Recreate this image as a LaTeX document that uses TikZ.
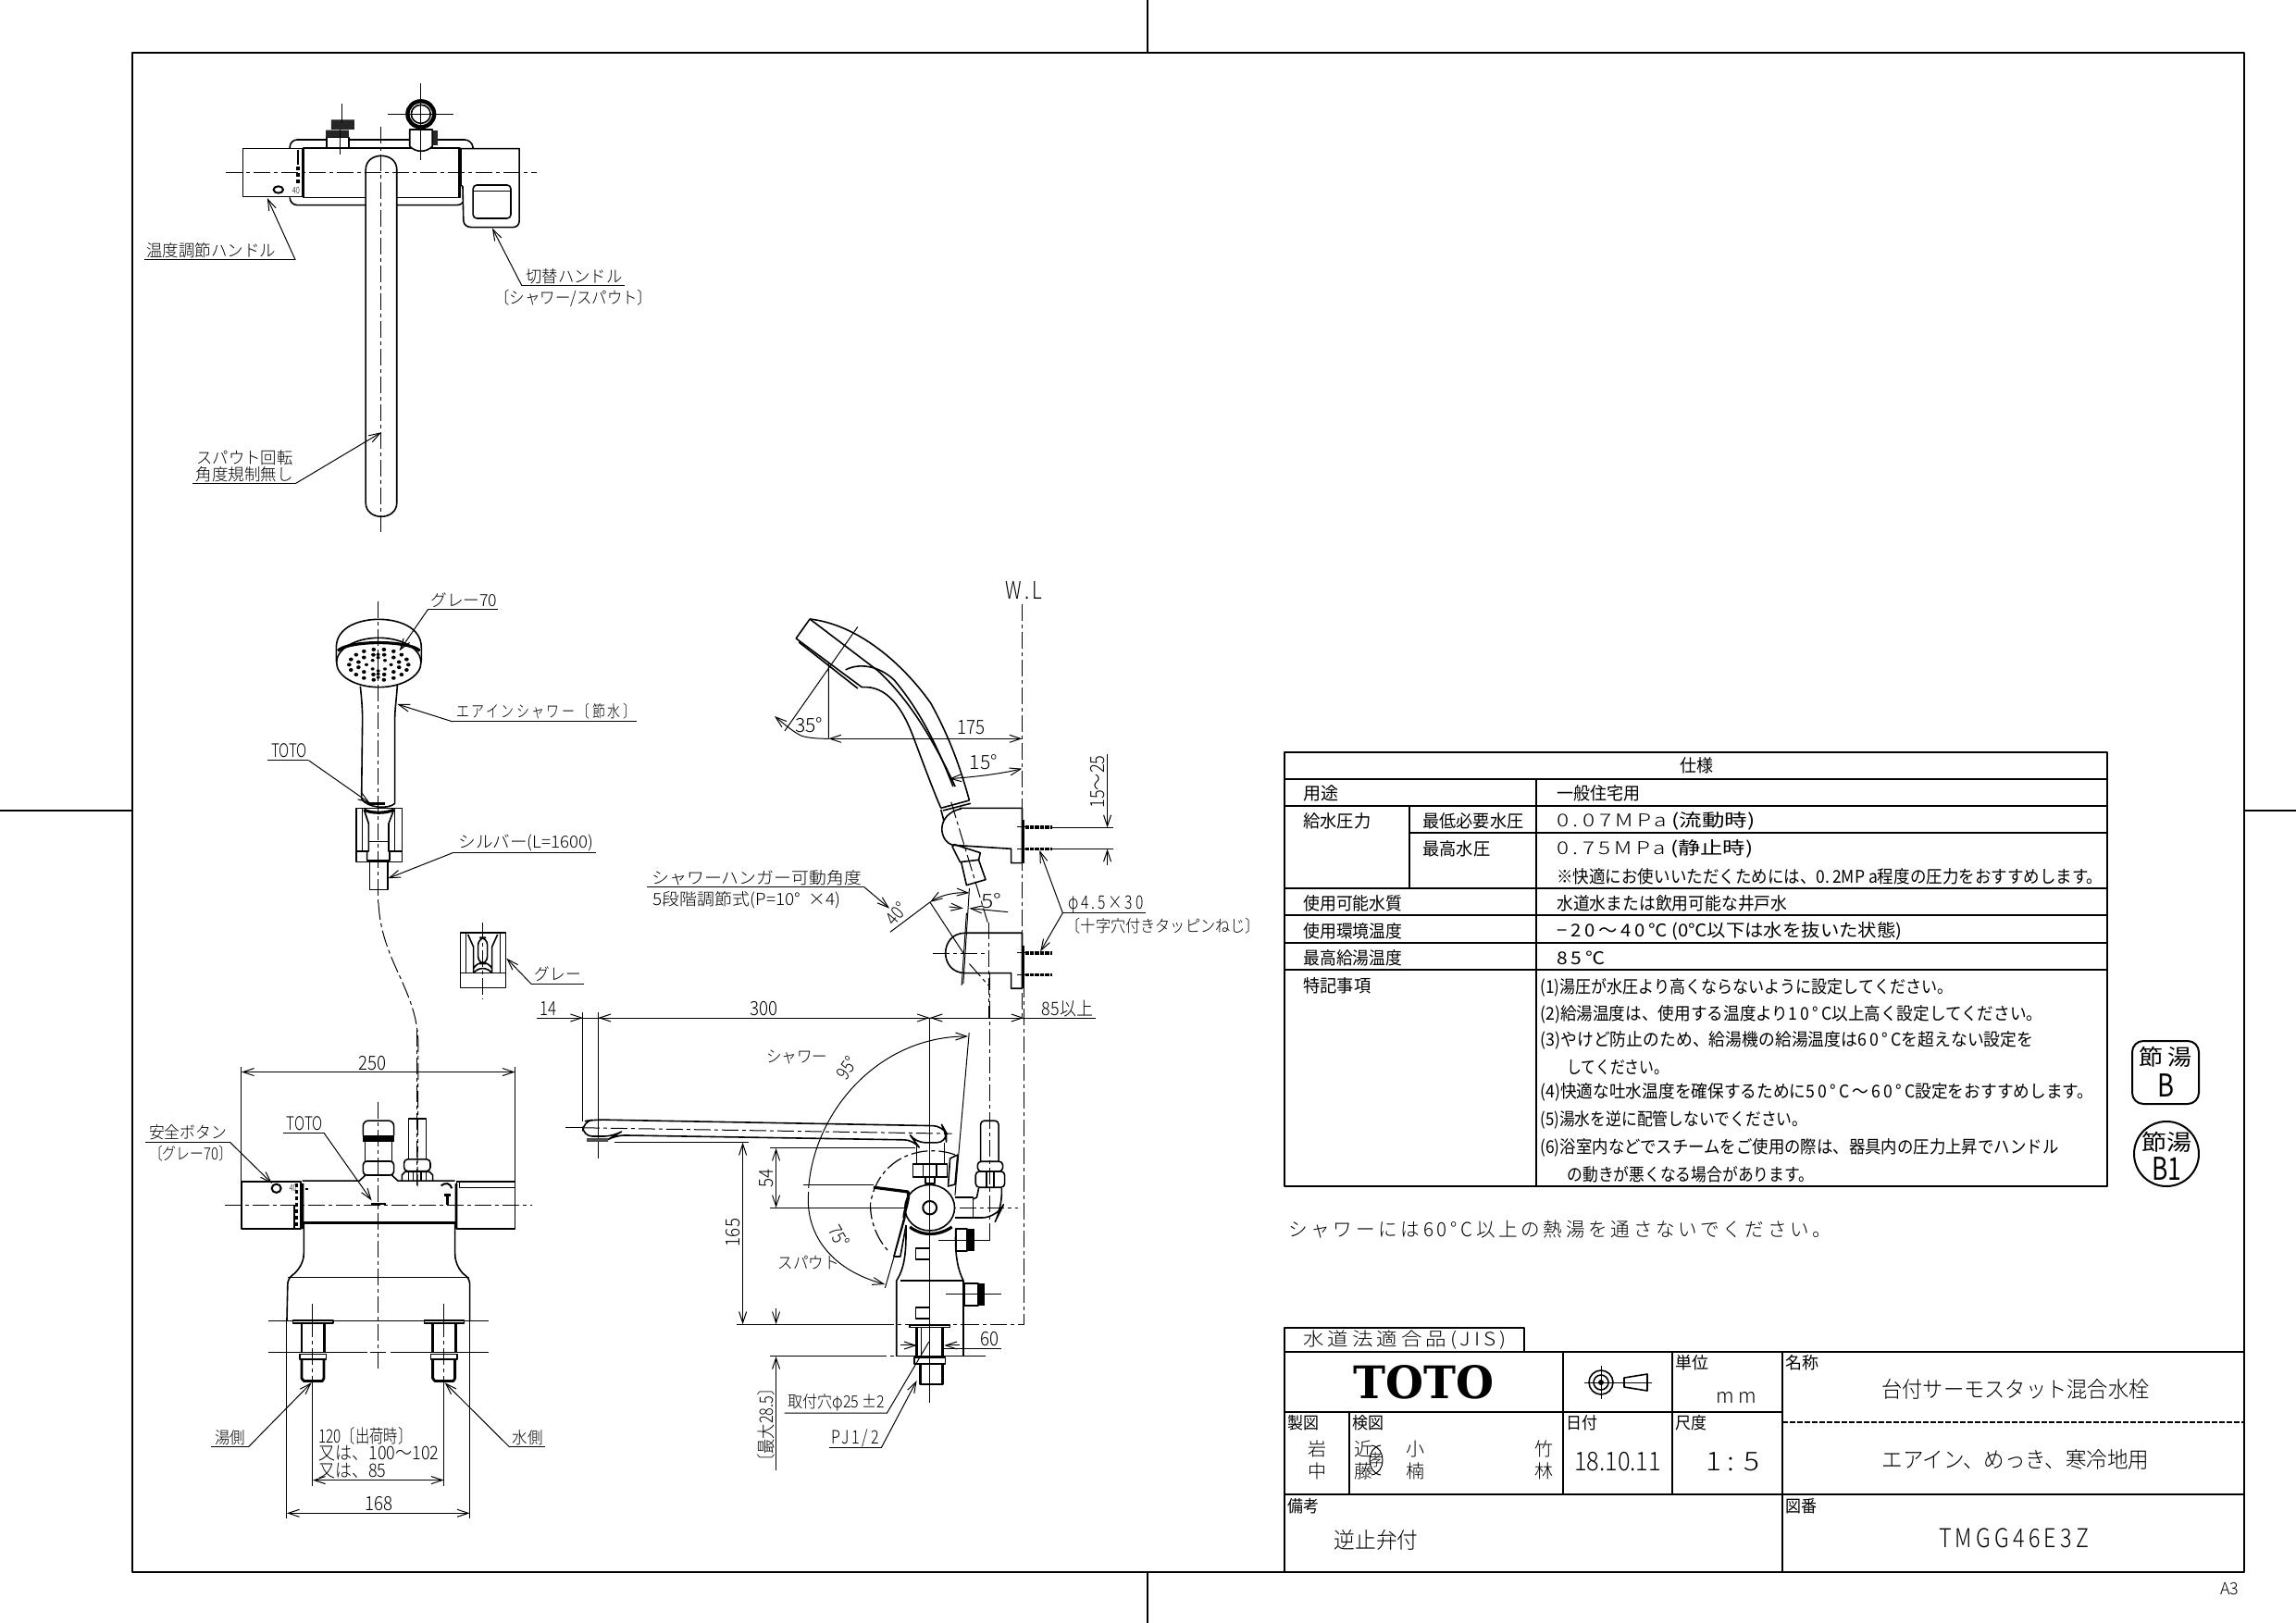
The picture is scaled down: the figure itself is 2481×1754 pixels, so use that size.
\documentclass[tikz,border=0pt]{standalone}
\usepackage{graphicx}
\usepackage{fontspec}
\setmainfont{Noto Sans CJK JP}
\newfontfamily\lightfont{Noto Sans CJK JP}[UprightFont=* Light]
\newfontfamily\regfont{Noto Sans CJK JP}
\newfontfamily\logofont{DejaVu Serif}
\usetikzlibrary{arrows.meta}
\newlength\pxu \setlength\pxu{0.5pt}
\newcounter{tc}
\let\curfont\lightfont
\newcommand{\lsp}[1]{{\addfontfeature{LetterSpace=18}#1}}
\newcommand{\fw}[3]{\resizebox{#1\pxu}{\height}{\curfont\fontsize{#2\pxu}{#2\pxu}\selectfont #3}}
\newcommand{\lab}[6][]{\stepcounter{tc}\node[anchor=#2,inner sep=0pt,#1] (t\arabic{tc}) at (#3) {\fw{#4}{#5}{#6}};}
\tikzset{
 thn/.style={line width=.5pt},
 obj/.style={line width=.8pt},
 thk/.style={line width=1.6pt},
 ctr/.style={line width=.5pt,dash pattern=on 9pt off 2pt on 2pt off 2pt},
 arw/.style={line width=.5pt,-{Straight Barb[length=6pt,width=4pt]}},
 arb/.style={line width=.5pt,{Straight Barb[length=6pt,width=4pt]}-{Straight Barb[length=6pt,width=4pt]}},
}
\begin{document}
\begin{tikzpicture}[x=0.5pt,y=-0.5pt,line join=round]
\useasboundingbox (0,0) rectangle (2481,1754);
\fill[white] (0,0) rectangle (2481,1754);
% ---- frame and centring marks
\draw[line width=1pt] (143,57) rectangle (2425,1699);
\draw[line width=.8pt] (1240,0)--(1240,57) (1240,1699)--(1240,1754) (0,876)--(143,876) (2425,876)--(2481,876);
\lab{center}{2409,1717}{20}{18}{A3}

% ---- top view
\begin{scope}[shift={(140,90)},xscale=0.4,yscale=0.3333]
\draw[obj,rounded corners=4pt] (433,212)--(433,183)--(925,183)--(928,212);
\draw[obj,rounded corners=4pt] (433,370)--(433,395)--(905,395)--(905,370);
\draw[obj,fill=white] (306,212) rectangle (466,367);
\draw[obj,fill=white] (470,210) rectangle (892,370);
\draw[thk] (468,212)--(468,368) (892,212)--(892,368);
\draw[obj,fill=white] (895,212)--(1053,212)--(1053,445) .. controls (1053,460) and (1045,467) .. (1035,467)--(925,467) .. controls (912,467) and (903,460) .. (902,445)--(900,335)--(895,330)--cycle;
\draw[obj,rounded corners=2pt] (928,330) rectangle (1030,438);
\draw[obj] (928,350)--(1030,350);
\draw[obj,fill=white] (638,1360)--(638,280) .. controls (638,220) and (722,220) .. (722,280)--(722,1360) .. controls (722,1420) and (638,1420) .. (638,1360)--cycle;
\draw[ctr] (260,290)--(1100,290);
\draw[ctr] (680,140)--(680,1455);
\draw[obj,fill=white] (532,175) rectangle (592,210);
\fill[black!85] (530,152) rectangle (592,175) (545,118) rectangle (607,150);
\draw[thn] (568,150)--(568,230) (575,65)--(575,130);
\draw[obj,fill=white] (757,205)--(757,150)--(818,150)--(818,205) .. controls (800,225) and (775,225) .. (757,205);
\fill[black!85] (820,152) rectangle (832,200);
\draw[line width=2.2pt,fill=white] (787,100) circle[x radius=36,y radius=42];
\draw[obj] (787,100) circle[x radius=26,y radius=30];
\draw[thn] (787,0)--(787,250) (698,100)--(875,100);
\draw[line width=1pt] (455,215)--(455,265);
\draw[line width=1.6pt,dash pattern=on 2pt off 1.5pt] (455,270)--(455,330);
\lab{center}{450,347}{8}{10}{40}
\draw[line width=1pt] (402,345) circle[x radius=13,y radius=11];
\draw[thn] (40,573)--(448,573);
\draw[arw] (448,573)--(372,372);
\lab{west}{45,543}{140}{18}{温度調節ハンドル}
\draw[thn] (1337,657)--(1060,657);
\draw[arw] (1060,657)--(980,470);
\lab{west}{1070,625}{104}{18}{切替ハンドル}
\lab{west}{985,697}{171}{18}{〔シャワー/スパウト〕}
\lab{west}{180,1213}{104}{18}{スパウト回転}
\lab{west}{178,1268}{105}{18}{角度規制無し}
\draw[thn] (170,1298)--(448,1298);
\draw[arw] (448,1298)--(680,1132);
\end{scope}

% ---- hose centre line
\draw[ctr] (409,976) .. controls (412,1040) and (452,1070) .. (452,1130)--(451,1282);

% ---- hand shower front
\begin{scope}[shift={(270,620)},scale=0.3333]
\draw[obj] (280,285)--(280,240) .. controls (280,170) and (360,148) .. (418,148) .. controls (476,148) and (556,170) .. (556,240)--(556,285);
\draw[obj] (418,288) circle[x radius=137,y radius=80];
\draw[thk] (285,250) .. controls (320,215) and (515,215) .. (551,250);
\foreach \a in {0,20,...,340}{
  \fill ({418+96*cos(\a)},{295+50*sin(\a)}) circle[x radius=7,y radius=6];
}
\foreach \a in {15,45,...,345}{
  \fill ({418+68*cos(\a)},{295+33*sin(\a)}) circle[x radius=7,y radius=6];
}
\foreach \a in {0,60,...,300}{
  \fill ({418+40*cos(\a)},{295+16*sin(\a)}) circle[x radius=6,y radius=5];
}
\foreach \y in {262,272,315,325,336}{
  \fill (416,\y) circle[x radius=6,y radius=5];
}
\draw[obj] (358,365) .. controls (362,400) and (365,440) .. (365,470)--(362,730) .. controls (380,760) and (450,765) .. (470,745)--(470,470) .. controls (470,440) and (476,400) .. (478,362);
\draw[line width=1.6pt] (380,745)--(438,745);
\draw[obj] (345,760) rectangle (493,935);
\draw[obj] (365,760)--(365,900) (470,760)--(470,900) (345,900)--(380,900) (453,900)--(493,900);
\draw[obj,fill=white] (370,765)--(385,810)--(385,900)--(380,900)--(380,930)--(453,930)--(453,900)--(450,900)--(450,810)--(467,765);
\draw[thk] (370,765) .. controls (390,778) and (445,778) .. (467,765);
\draw[obj] (385,868)--(450,868);
\draw[obj] (388,933) rectangle (447,1025);
\draw[ctr] (416,90)--(416,1070);
\draw[thn] (578,115)--(805,115);
\draw[arw] (578,115)--(485,250);
\lab{west}{585,85}{72}{18}{グレー70}
\draw[thn] (658,480)--(1255,480);
\draw[arw] (658,480)--(478,423);
\lab{west}{668,447}{194}{18}{\lsp{エアインシャワー〔節水〕}}
\draw[thn] (58,605)--(190,605);
\draw[arw] (190,605)--(390,745);
\lab{west}{68,575}{39}{20}{TOTO}
\draw[thn] (658,905)--(1122,905);
\draw[arw] (658,905)--(448,988);
\lab{west}{675,873}{146}{18}{シルバー(L=1600)}
% holder
\draw[obj] (682,1165) rectangle (830,1343);
\draw[obj] (682,1295)--(830,1295) (700,1165)--(700,1295) (812,1165)--(812,1295);
\draw[obj] (707,1170)--(725,1210)--(725,1295) (803,1170)--(785,1210)--(785,1295) (725,1280) .. controls (740,1255) and (770,1255) .. (785,1280) (725,1295) .. controls (740,1275) and (770,1275) .. (785,1295);
\draw[obj,rounded corners=4pt] (740,1180) rectangle (770,1265);
\draw[ctr] (755,1130)--(755,1380);
\draw[thn] (912,1330)--(1082,1330);
\draw[arw] (912,1330)--(832,1247);
\lab{west}{922,1298}{50}{18}{グレー}
\end{scope}

% ---- faucet front view
\begin{scope}[shift={(140,1120)},xscale=0.3333,yscale=0.3571]
\draw[arb] (363,108)--(1250,108);
\draw[thn] (363,92)--(363,440) (1250,92)--(1250,440);
\lab{center}{788,80}{30}{21}{250}
\draw[obj] (363,440) rectangle (555,583);
\draw[obj] (1060,440) rectangle (1250,583);
\draw[obj] (1070,440)--(1070,458)--(1250,458);
\draw[obj,rounded corners=3pt] (565,565)--(565,640) .. controls (565,690) and (540,715) .. (513,732)--(510,860);
\draw[obj,rounded corners=3pt] (1055,565)--(1055,640) .. controls (1055,690) and (1075,715) .. (1103,732)--(1103,860);
\draw[obj] (513,730)--(1100,730);
\draw[obj] (560,437)--(745,437)--(765,420) (850,420)--(870,437)--(1055,437);
\draw[line width=1.4pt] (560,565)--(1055,565);
\fill (553,445) rectangle (565,583) (1055,445) rectangle (1063,583);
\draw[line width=.9pt] (535,510)--(535,583);
\draw[line width=1.6pt,dash pattern=on 2pt off 1.5pt] (541,445)--(541,583);
\lab{center}{530,460}{8}{10}{40}
\fill (570,458) rectangle (578,465);
\draw[line width=1pt] (1010,452) .. controls (1025,440) and (1040,445) .. (1045,460);
\draw[line width=1.4pt] (1020,480)--(1042,480) (1031,480)--(1031,510);
\draw[line width=1pt] (476,460) circle[x radius=15,y radius=13];
\draw[obj,rounded corners=3pt] (757,300)--(757,255)--(857,255)--(857,300);
\fill (757,300) rectangle (857,318);
\draw[obj] (763,318)--(763,378) (850,318)--(850,378);
\draw[obj,rounded corners=2pt] (757,378) rectangle (857,420);
\draw[obj] (905,370)--(905,250)--(962,250)--(962,370);
\draw[obj,rounded corners=2pt] (890,372) rectangle (975,408);
\draw[obj] (883,437)--(883,420)--(893,410)--(973,410)--(983,420)--(983,437);
\draw[obj] (905,410)--(905,437) (920,410)--(920,437) (945,410)--(945,437) (962,410)--(962,437);
\draw[ctr] (806,200)--(806,1005);
\draw[ctr] (933,-20)--(933,455);
\draw[ctr] (310,512)--(1305,512);
\fill (782,503) rectangle (830,511);
\draw[thn] (498,292)--(630,292);
\draw[arw] (630,292)--(785,497);
\lab{west}{508,263}{39}{20}{TOTO}
\draw[thn] (52,320)--(325,320);
\draw[arw] (325,320)--(462,445);
\lab{west}{62,290}{84}{18}{安全ボタン}
\lab{west}{62,355}{90}{18}{〔グレー70〕}
% legs
\draw[thn] (450,860)--(1163,860);
\draw[thn] (450,955)--(770,955) (845,955)--(1163,955);
\draw[thn] (780,955)--(830,955);
\draw[obj] (530,860) rectangle (660,868);
\draw[line width=1.2pt] (558,868)--(558,955) (632,868)--(632,955);
\draw[obj] (552,962) rectangle (638,978);
\draw[line width=1.4pt] (558,978)--(558,1035)--(565,1043)--(625,1043)--(630,1035)--(630,978);
\draw[obj] (955,860) rectangle (1085,868);
\draw[line width=1.2pt] (982,868)--(982,955) (1057,868)--(1057,955);
\draw[obj] (977,962) rectangle (1062,978);
\draw[line width=1.4pt] (983,978)--(983,1035)--(990,1043)--(1050,1043)--(1055,1035)--(1055,978);
\draw[thn] (594,810)--(594,860) (1019,810)--(1019,860);
\draw[ctr] (594,860)--(594,1043) (1019,860)--(1019,1043);
\draw[thn] (594,1043)--(594,1360) (1019,1043)--(1019,1360);
\draw[arb] (594,1343)--(1019,1343);
\lab{west}{612,1210}{101}{20}{120〔出荷時〕}
\lab{west}{612,1262}{130}{20}{又は、100〜102}
\lab{west}{612,1315}{73}{20}{又は、85}
\draw[thn] (510,860)--(510,1460) (1103,860)--(1103,1460);
\draw[arb] (510,1443)--(1103,1443);
\lab{center}{808,1413}{30}{21}{168}
\draw[thn] (265,1243)--(385,1243);
\draw[arw] (385,1243)--(590,1048);
\lab{west}{275,1215}{33}{18}{湯側}
\draw[thn] (1232,1243)--(1348,1243);
\draw[arw] (1232,1243)--(1022,1048);
\lab{west}{1240,1215}{33}{18}{水側}
\end{scope}

% ---- hand shower side view
\begin{scope}[shift={(690,620)},xscale=0.4386,yscale=0.3333]
\lab{center}{950,55}{40}{26}{\lsp{W.L}}
\draw[ctr] (945,100)--(945,1440);
% head
\draw[obj] (422,147) .. controls (540,165) and (650,290) .. (720,420) .. controls (770,540) and (795,640) .. (815,735);
\draw[obj] (422,147)--(388,210)--(550,368);
\draw[obj] (395,222)--(540,372);
\draw[obj] (422,147)--(590,315);
\draw[obj] (510,312) .. controls (540,290) and (590,295) .. (630,345) .. controls (690,440) and (730,540) .. (775,690);
\draw[obj] (590,315) .. controls (660,400) and (720,520) .. (780,690);
\draw[obj] (550,368) .. controls (610,362) and (650,430) .. (680,540) .. controls (700,610) and (725,700) .. (745,760);
\draw[obj] (745,760)--(815,735) (750,768)--(818,745);
\draw[thn] (540,172)--(360,510) (468,290)--(468,535);
\draw[arw] (400,525) .. controls (385,515) and (370,500) .. (335,462);
\draw[thn] (468,535) .. controls (430,535) and (410,530) .. (400,525);
\draw[arb] (468,535)--(945,535);
\lab{center}{820,500}{30}{21}{175}
\lab{center}{420,490}{30}{21}{35°}
\draw[arb] (765,665) .. controls (820,660) and (890,650) .. (945,632);
\lab{center}{850,610}{30}{21}{15°}
% upper bracket
\draw[obj] (745,765)--(752,800) (790,760)--(945,760)--(945,800);
\draw[obj] (795,762) .. controls (730,780) and (740,870) .. (775,880)--(918,892)--(918,938)--(945,938)--(945,800);
\draw[line width=1.2pt] (947,798)--(947,940);
\draw[obj] (773,885)--(778,878)--(842,905)--(838,928)--(792,935)--cycle;
\draw[obj] (795,935)--(808,1010)--(855,992)--(838,928);
\draw[ctr] (770,740)--(860,1130);
\draw[ctr] (862,1130)--(862,1440);
\foreach \y in {822,893,1230,1300}{
 \draw[line width=1.6pt,dash pattern=on 2.2pt off .5pt] (952,\y)--(1018,\y);
 \draw[thn] (932,\y)--(952,\y);
}
\draw[thn] (1018,823)--(1170,823) (1018,893)--(1170,893);
\draw[arw] (1155,585)--(1155,823);
\draw[arw] (1155,945)--(1155,893);
\lab[rotate=90]{center}{1132,675}{57}{21}{15〜25}
% leader
\lab{west}{33,985}{226}{18}{シャワーハンガー可動角度}
\lab{west}{35,1058}{203}{18}{5段階調節式(P=10°\ \ ×4)}
\draw[thn] (20,1015)--(555,1015);
\draw[arw] (555,1015)--(618,1085);
\lab[rotate=50]{center}{635,1103}{24}{20}{40°}
\draw[thn] (620,1162)--(718,1065);
\draw[arb] (718,1065) .. controls (745,1042) and (780,1032) .. (815,1035);
\draw[thn] (718,1065)--(800,1230);
\draw[thn] (815,1020)--(800,1330);
\draw[arw] (765,1080)--(800,1085);
\draw[arw] (910,1097)--(815,1085);
\lab{center}{870,1060}{22}{21}{5°}
% lower bracket
\draw[obj] (945,1205)--(945,1165)--(805,1165) .. controls (740,1165) and (740,1295) .. (805,1295)--(918,1295)--(918,1345)--(945,1345)--(945,1205);
\draw[line width=1.2pt] (947,1205)--(947,1345);
\draw[ctr] (725,1232)--(865,1232);
\draw[thn] (808,1100)--(796,1335);
\draw[ctr] (815,1265)--(862,1335);
\lab{west}{1058,1072}{81}{20}{\lsp{φ4.5×30}}
\draw[thn] (1045,1100)--(1250,1100);
\draw[arw] (1045,1100)--(988,897);
\draw[arw] (1045,1100)--(990,1225);
\lab{west}{1052,1142}{210}{18}{〔十字穴付きタッピンねじ〕}
\end{scope}

% ---- faucet side view
\begin{scope}[shift={(570,1060)},xscale=0.4132,yscale=0.4]
\draw[thn] (25,100)--(1487,100);
\draw[arw] (100,100)--(145,100);
\draw[arw] (225,100)--(185,100);
\draw[arw] (1012,100)--(1052,100);
\draw[arw] (1092,100)--(1052,100);
\draw[arw] (1258,100)--(1298,100);
\draw[thn] (145,85)--(145,380) (185,85)--(185,480);
\lab{center}{55,75}{18}{21}{14}
\lab{center}{618,75}{30}{21}{300}
\lab{center}{1412,75}{55}{20}{85以上}
\draw[ctr] (1298,0)--(1298,928)--(1140,928);
\draw[ctr] (1208,-20)--(1208,700);
% spout
\draw[obj,rounded corners=5pt] (145,420)--(145,380)--(175,375)--(1085,392)--(1095,410)--(1095,437)--(1015,437)--(1010,430)--(230,417)--(225,420)--cycle;
\fill[black!70] (155,425) rectangle (210,435);
\draw[thn] (100,397)--(145,397);
\draw[ctr] (145,397)--(1110,413);
\draw[thn] (228,437)--(578,437);
\draw[arb] (563,437)--(563,928);
\lab[rotate=90]{center}{538,680}{30}{21}{165}
\draw[thn] (635,452)--(1015,452);
\draw[arb] (650,452)--(650,613);
\lab[rotate=90]{center}{625,535}{20}{21}{54}
\draw[thn] (635,613)--(985,613);
\draw[ctr] (985,613)--(1282,613);
\draw[thn] (547,928)--(915,928);
\draw[ctr] (915,928)--(1140,928);
\draw[thn] (635,1015)--(895,1015);
\draw[ctr] (895,1015)--(965,1015);
\draw[thn] (965,1015)--(1197,1015);
\draw[arw] (650,885)--(650,928);
\draw[arw] (650,1322)--(650,1015);
\lab[rotate=90]{center}{625,1200}{95}{20}{〔最大28.5〕}
% big arcs
\draw[arw] (735,560) .. controls (750,350) and (920,150) .. (1152,150);
\draw[arw] (735,570) .. controls (725,680) and (790,780) .. (935,820);
\draw[thn] (1155,140)--(1118,580);
\draw[thn] (935,830)--(988,640);
\lab{center}{705,205}{66}{18}{シャワー}
\lab[rotate=55]{center}{835,235}{24}{20}{95°}
\lab[rotate=-60]{center}{815,690}{24}{20}{75°}
\lab{center}{735,762}{66}{18}{スパウト}
% body
\draw[obj] (1018,437)--(1018,495) (1090,437)--(1090,495);
\draw[obj] (1008,495) rectangle (1098,530);
\draw[obj] (1035,495)--(1035,530) (1070,495)--(1070,530);
\draw[obj] (1040,530) rectangle (1065,548);
\draw[ctr,line width=.6pt] (1118,470) .. controls (1040,440) and (920,470) .. (897,600) .. controls (895,650) and (915,700) .. (948,735);
\draw[obj] (1105,480)--(1125,470)--(1118,550)--(1100,555)--cycle;
\draw[obj] (990,660) .. controls (990,720) and (990,770) .. (965,810)--(965,1015);
\draw[obj] (1120,670) .. controls (1118,720) and (1120,770) .. (1140,810)--(1140,1015);
\draw[obj] (975,810)--(1140,810);
\draw[thk] (1000,665) .. controls (1030,690) and (1075,690) .. (1110,665);
\draw[obj,fill=white] (1052,613) circle[x radius=65,y radius=62];
\draw[line width=1pt] (1052,613) circle[x radius=18,y radius=18];
\draw[thk] (905,558)--(995,570) .. controls (1000,590) and (985,620) .. (985,640);
\draw[obj] (958,745)--(975,745)--(990,660) (958,745)--(985,640);
\draw[thn] (720,550)--(905,550);
\draw[obj] (1015,722) rectangle (1052,752);
\draw[obj] (1015,882) rectangle (1052,912);
\draw[obj] (1120,670) rectangle (1150,730);
\fill (1150,670) rectangle (1168,730);
\draw[thn] (1075,700)--(1210,700);
\draw[obj] (1143,817) rectangle (1178,877);
\fill (1178,817) rectangle (1195,877);
\draw[thn] (1095,847)--(1238,847);
% elbow
\draw[obj] (1118,585)--(1165,585)--(1165,640)--(1118,640);
\draw[obj] (1165,590)--(1175,585)--(1180,560);
\draw[obj,rounded corners=8pt] (1165,640)--(1228,640)--(1240,615)--(1240,560);
\draw[obj,rounded corners=2pt] (1185,488)--(1185,378)--(1232,378)--(1232,488);
\draw[obj,rounded corners=2pt] (1177,488) rectangle (1243,515);
\draw[obj,rounded corners=2pt] (1172,515) rectangle (1248,558);
\draw[obj] (1200,515)--(1200,558) (1220,515)--(1220,558);
% mounting
\draw[thn] (1052,100)--(1052,1140);
\draw[obj] (1000,930) rectangle (1105,936);
\draw[line width=1.2pt] (1018,936)--(1018,1015) (1085,936)--(1085,1015);
\draw[obj] (1030,936)--(1030,1015);
\draw[obj] (1012,1018) rectangle (1093,1035);
\draw[line width=1.4pt] (1028,1035)--(1028,1090)--(1085,1090)--(1085,1035);
\draw[arw] (975,985)--(1018,985);
\draw[arw] (1130,985)--(1090,985);
\draw[thn] (1085,995)--(1240,995);
\lab{center}{1210,968}{20}{21}{60}
\lab{west}{680,1140}{105}{18}{取付穴φ25 ±2}
\draw[thn] (672,1168)--(940,1168)--(1050,975);
\lab{west}{795,1235}{51}{20}{\lsp{PJ1/2}}
\draw[thn] (790,1262)--(925,1262);
\draw[arw] (925,1262)--(1018,1080);
\end{scope}

% ---- specification table
\let\curfont\regfont
\draw[line width=1pt] (1388,813) rectangle (2277,1282);
\draw[line width=.9pt] (1388,842)--(2277,842) (1388,871)--(2277,871) (1523,900)--(2277,900) (1388,960)--(2277,960) (1388,989)--(2277,989) (1388,1019)--(2277,1019);
\draw[line width=1.2pt] (1388,1048)--(2277,1048);
\draw[line width=.9pt] (1660,842)--(1660,1282) (1523,871)--(1523,960);
\lab{center}{1833,827}{36}{19}{仕様}
\lab{west}{1408,857}{38}{19}{用途}
\lab{west}{1408,887}{73}{19}{給水圧力}
\lab{west}{1537,887}{109}{19}{最低必要水圧}
\lab{west}{1537,917}{73}{19}{最高水圧}
\lab{west}{1408,976}{107}{19}{使用可能水質}
\lab{west}{1408,1006}{107}{19}{使用環境温度}
\lab{west}{1408,1035}{107}{19}{最高給湯温度}
\lab{west}{1408,1065}{73}{19}{特記事項}
\lab{west}{1682,857}{90}{19}{一般住宅用}
\lab{west}{1682,887}{214}{19}{\lightfont\lsp{0.07MPa} {\regfont (流動時)}}
\lab{west}{1682,917}{212}{19}{\lightfont\lsp{0.75MPa} {\regfont (静止時)}}
\lab{west}{1682,947}{590}{19}{※快適にお使いいただくためには、0.\,2MP a程度の圧力をおすすめします。}
\lab{west}{1682,976}{249}{19}{水道水または飲用可能な井戸水}
\lab{west}{1682,1006}{373}{19}{\lsp{−20〜40℃} (0℃以下は水を抜いた状態)}
\lab{west}{1682,1035}{52}{19}{\lsp{85℃}}
\lab{west}{1664,1067}{446}{19}{(1)湯圧が水圧より高くならないように設定してください。}
\lab{west}{1664,1096}{543}{19}{(2)給湯温度は、使用する温度より\lsp{10°C}以上高く設定してください。}
\lab{west}{1664,1124}{533}{19}{(3)やけど防止のため、給湯機の給湯温度は\lsp{60°C}を超えない設定を}
\lab{west}{1693,1153}{110}{19}{してください。}
\lab{west}{1664,1180}{598}{19}{(4)快適な吐水温度を確保するために\lsp{50°C〜60°C}設定をおすすめします。}
\lab{west}{1664,1210}{289}{19}{(5)湯水を逆に配管しないでください。}
\lab{west}{1664,1240}{560}{19}{(6)浴室内などでスチームをご使用の際は、器具内の圧力上昇でハンドル}
\lab{west}{1693,1269}{267}{19}{の動きが悪くなる場合があります。}
\let\curfont\lightfont
\lab{west}{1392,1329}{587}{21}{\lsp{シャワーには60°C以上の熱湯を通さないでください。}}

% ---- stamps
\let\curfont\regfont
\draw[line width=1pt,rounded corners=6pt] (2304,1125) rectangle (2376,1193);
\lab{center}{2340,1142}{58}{24}{節 湯}
\lab{center}{2340,1173}{18}{34}{B}
\draw[line width=1pt] (2341,1247) circle[radius=35];
\lab{center}{2341,1234}{54}{24}{節湯}
\lab{center}{2341,1263}{32}{34}{B1}
\let\curfont\lightfont

% ---- title block
\draw[line width=.8pt] (1388,1461)--(1388,1435)--(1647,1435)--(1647,1461);
\lab{center}{1518,1448}{220}{20}{\lsp{水道法適合品(JIS)}}
\draw[line width=1.2pt] (1388,1461)--(2425,1461);
\draw[line width=1pt] (1388,1461)--(1388,1699);
\draw[line width=1.2pt] (1388,1526)--(1926,1526);
\draw[line width=1pt] (1388,1615)--(2425,1615);
\draw[line width=.8pt] (1689,1461)--(1689,1615) (1807,1461)--(1807,1615) (1458,1526)--(1458,1615);
\draw[line width=1pt] (1926,1461)--(1926,1699);
\draw[line width=1pt,dash pattern=on 3pt off 1pt] (1926,1537)--(2425,1537);
\node[inner sep=0pt] (logo) at (1538,1494) {\resizebox{152\pxu}{36\pxu}{\logofont\bfseries TOTO}};
\draw[line width=.8pt] (1730,1494) circle[radius=13] (1730,1494) circle[radius=8] ;
\fill (1730,1494) circle[radius=3];
\draw[thn] (1730,1476)--(1730,1512) (1712,1494)--(1748,1494);
\draw[line width=.8pt] (1755,1489)--(1780,1485)--(1780,1503)--(1755,1499)--cycle;
\draw[thn] (1745,1494)--(1785,1494);
\let\curfont\regfont
\lab{west}{1810,1473}{36}{18}{単位}
\lab{west}{1929,1473}{36}{18}{名称}
\lab{west}{1391,1538}{34}{18}{製図}
\lab{west}{1461,1538}{34}{18}{検図}
\lab{west}{1692,1538}{34}{18}{日付}
\lab{west}{1810,1538}{34}{18}{尺度}
\lab{west}{1391,1628}{34}{18}{備考}
\lab{west}{1929,1628}{34}{18}{図番}
\let\curfont\lightfont
\lab{center}{1876,1510}{44}{22}{m m}
\lab{center}{2178,1501}{289}{24}{台付サーモスタット混合水栓}
\lab{center}{2178,1577}{289}{24}{エアイン、めっき、寒冷地用}
\lab{center}{1423,1566}{20}{20}{岩}
\lab{center}{1423,1590}{20}{20}{中}
\lab{center}{1473,1566}{20}{20}{近}
\lab{center}{1473,1590}{20}{20}{藤}
\lab{center}{1487,1578}{16}{18}{孝}
\draw[thn] (1482,1562) .. controls (1498,1564) and (1498,1592) .. (1482,1594);
\draw[thn] (1492,1562) .. controls (1476,1564) and (1476,1592) .. (1492,1594);
\lab{center}{1529,1566}{20}{20}{小}
\lab{center}{1529,1590}{20}{20}{楠}
\lab{center}{1668,1566}{20}{20}{竹}
\lab{center}{1668,1590}{20}{20}{林}
\lab{center}{1748,1580}{94}{28}{18.10.11}
\lab{center}{1872,1580}{58}{28}{1 : 5}
\lab{center}{1487,1664}{91}{24}{逆止弁付}
\lab{center}{2176,1662}{162}{28}{\lsp{TMGG46E3Z}}
\end{tikzpicture}
\end{document}
